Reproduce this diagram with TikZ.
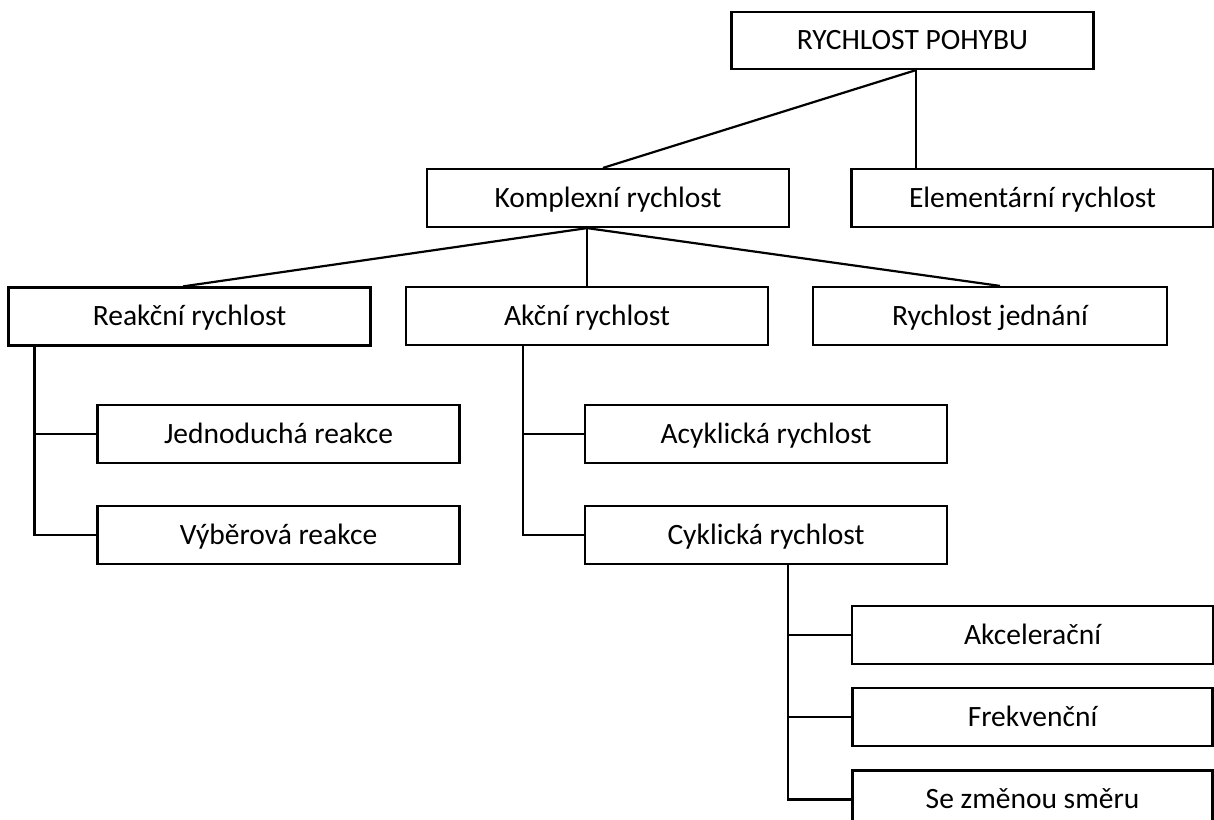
\documentclass[tikz,border=0pt]{standalone}
\usepackage{fontspec}
\setmainfont{Carlito}
\usetikzlibrary{positioning}

\begin{document}
\begin{tikzpicture}[x=1pt,y=-1pt,line width=2.2pt,node distance=41pt,
  box/.style={draw,rectangle,inner sep=0pt,minimum width=362pt,minimum height=58pt,
    text height=22pt,text depth=4pt,font=\fontsize{29.5}{34}\selectfont},
  link/.style={draw,line width=2.2pt}]
  \useasboundingbox (0,0) rectangle (1214,819);
  % Root of the tree, then its two children side by side.
  \node[box,minimum height=57pt] (root) at (912.5,40.5) {RYCHLOST POHYBU};
  \node[box] (kompl) at (608,198) {Komplexní rychlost};
  \node[box] (elem) at (1032.5,198) {Elementární rychlost};
  % Third row, hanging off the complex one.
  \node[box] (reakce) at (189.5,316.5) {Reakční rychlost};
  \node[box] (akce) at (587,316) {Akční rychlost};
  \node[box,minimum width=354pt] (jednani) at (990,316) {Rychlost jednání};
  % Sub-items of the reaction speed, stacked below one another.
  \node[box] (jednoducha) at (278.5,434) {Jednoduchá reakce};
  \node[box] (vyber) [below=of jednoducha] {Výběrová reakce};
  % Sub-items of the action speed.
  \node[box] (acykl) at (766,434) {Acyklická rychlost};
  \node[box] (cykl) [below=of acykl] {Cyklická rychlost};
  % Kinds of cyclic speed, closer together.
  \node[box,minimum width=361pt] (akcel) at (1032.5,635) {Akcelerační};
  \node[box,minimum width=360pt] (frekv) [below=22pt of akcel] {Frekvenční};
  \node[box,minimum width=360pt] (smer) [below=22pt of frekv] {Se změnou směru};
  % Fork points and trunks of the connectors.
  \coordinate (rootfork) at ([xshift=3.5pt]root.south);
  \coordinate (komplfork) at (akce.north |- kompl.south);
  \coordinate (rtrunk) at ([xshift=27pt]reakce.south west);
  \coordinate (atrunk) at ([xshift=118pt]akce.south west);
  \coordinate (ctrunk) at ([xshift=22pt]cykl.south);
  % Top level edges
  \path[link] (rootfork) -- ([xshift=-5pt]kompl.north);
  \path[link] (rootfork) -- (rootfork |- elem.north);
  % Edges fanning out of the complex speed
  \path[link] (komplfork) -- ([xshift=-6.5pt]reakce.north);
  \path[link] (komplfork) -- (akce.north);
  \path[link] (komplfork) -- ([xshift=10pt]jednani.north);
  % Side trunks with their branches
  \path[link] (rtrunk) |- (vyber.west);
  \path[link] (rtrunk |- jednoducha.west) -- (jednoducha.west);
  \path[link] (atrunk) |- (cykl.west);
  \path[link] (atrunk |- acykl.west) -- (acykl.west);
  \path[link] (ctrunk) |- (smer.west);
  \path[link] (ctrunk |- akcel.west) -- (akcel.west);
  \path[link] (ctrunk |- frekv.west) -- (frekv.west);
\end{tikzpicture}
\end{document}
